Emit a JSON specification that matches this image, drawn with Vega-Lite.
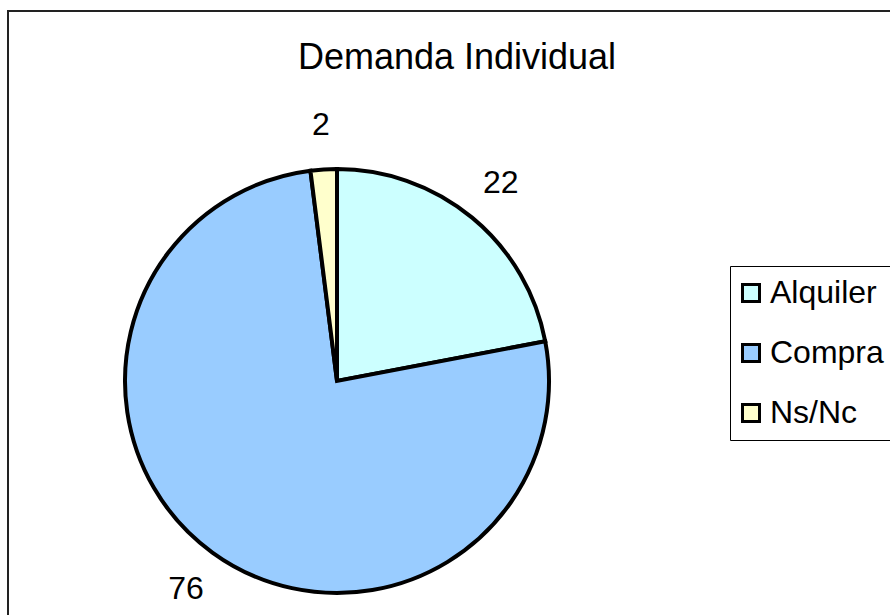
{
  "$schema": "https://vega.github.io/schema/vega-lite/v6.json",
  "width": 890,
  "height": 615,
  "autosize": {"type": "none"},
  "padding": {"left": 8, "top": 11, "right": 0, "bottom": 0},
  "background": "white",
  "view": {"stroke": "#222222", "strokeWidth": 2},
  "title": {
    "text": "Demanda Individual",
    "font": "Liberation Sans",
    "fontSize": 36,
    "fontWeight": "normal",
    "color": "black",
    "anchor": "middle",
    "baseline": "alphabetic",
    "offset": 0,
    "dy": 94,
    "dx": 4
  },
  "config": {
    "text": {"font": "Liberation Sans"}
  },
  "data": {
    "values": [
      {"tipo": "Alquiler", "porcentaje": 22},
      {"tipo": "Compra", "porcentaje": 76},
      {"tipo": "Ns/Nc", "porcentaje": 2}
    ]
  },
  "encoding": {
    "theta": {"field": "porcentaje", "type": "quantitative", "stack": true},
    "order": {"field": "tipo", "type": "ordinal", "sort": "ascending"}
  },
  "layer": [
    {
      "mark": {
        "type": "arc",
        "x": 329,
        "y": 370,
        "outerRadius": 212,
        "stroke": "black",
        "strokeWidth": 4
      },
      "encoding": {
        "color": {
          "field": "tipo",
          "type": "nominal",
          "scale": {
            "domain": ["Alquiler", "Compra", "Ns/Nc"],
            "range": ["#CCFFFF", "#99CCFF", "#FFFFCC"]
          },
          "legend": {
            "title": null,
            "orient": "none",
            "legendX": 722,
            "legendY": 255,
            "strokeColor": "black",
            "fillColor": "white",
            "padding": 11,
            "symbolType": "square",
            "symbolSize": 289,
            "symbolStrokeColor": "black",
            "symbolStrokeWidth": 3,
            "symbolOpacity": 1,
            "symbolOffset": -6,
            "labelFont": "Liberation Sans",
            "labelFontSize": 32,
            "labelColor": "black",
            "labelOffset": 3,
            "labelLimit": 300,
            "rowPadding": 28
          }
        }
      }
    },
    {
      "mark": {
        "type": "text",
        "x": 329,
        "y": 370,
        "radius": 257,
        "fontSize": 32,
        "fill": "black",
        "align": "center",
        "baseline": "middle"
      },
      "encoding": {
        "text": {"field": "porcentaje", "type": "quantitative"}
      }
    }
  ]
}
